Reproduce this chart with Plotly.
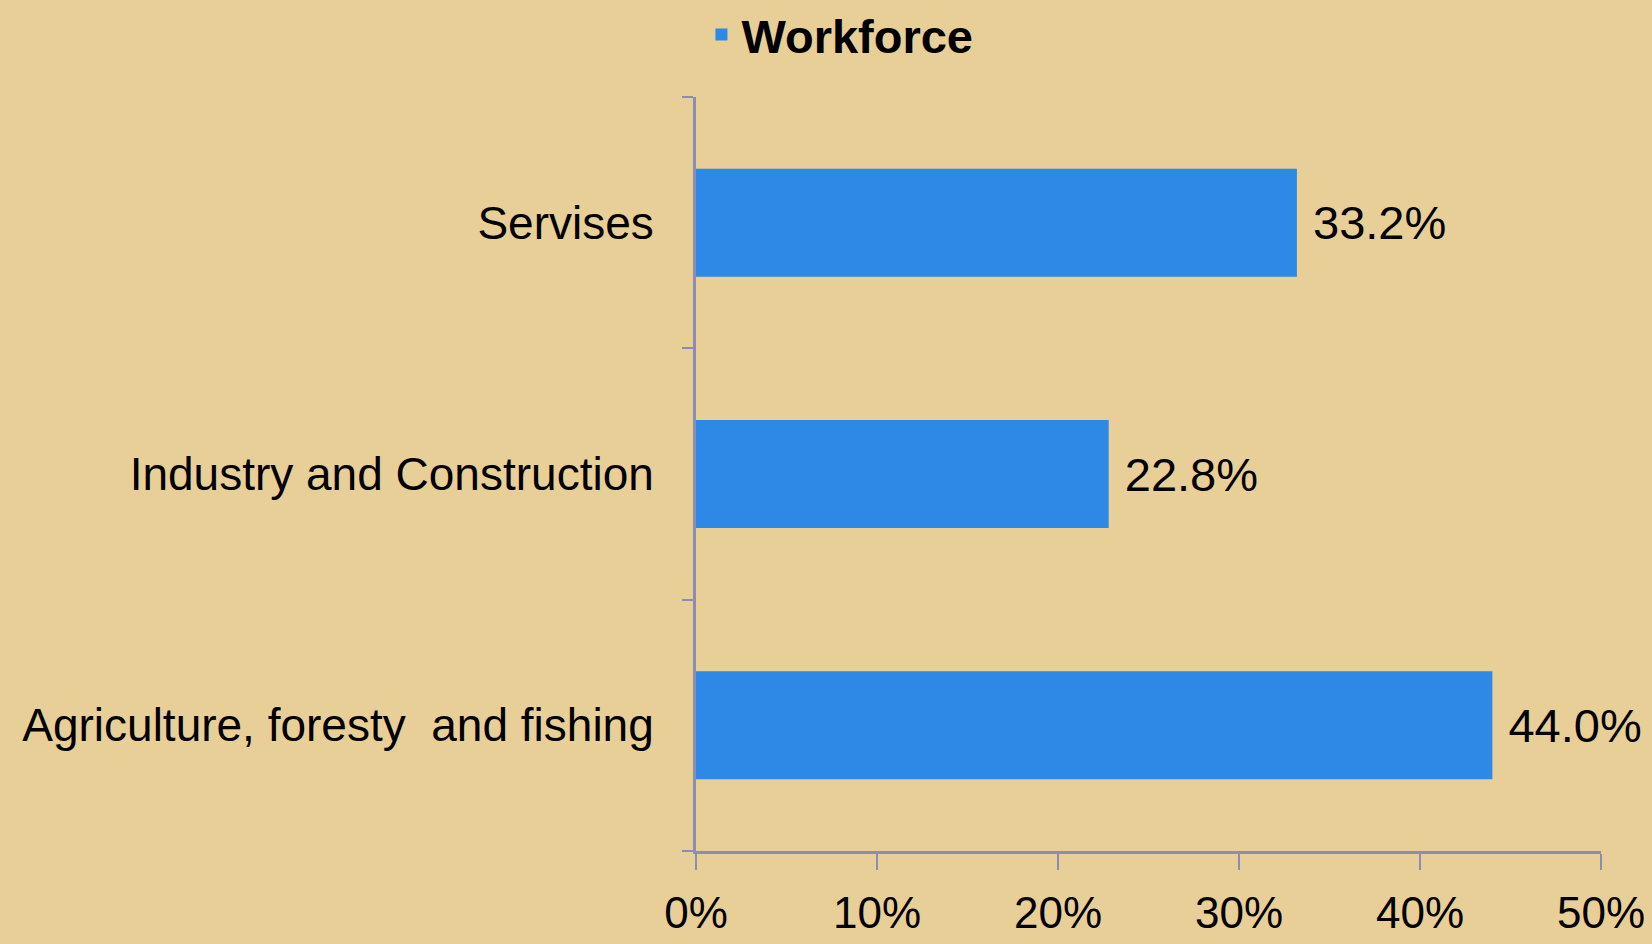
import plotly.graph_objects as go

categories = ["Agriculture, foresty  and fishing", "Industry and Construction", "Servises"]
workforce = [0.440, 0.228, 0.332]
labels = ["44.0%", "22.8%", "33.2%"]
x_ticks = [0, 0.1, 0.2, 0.3, 0.4, 0.5]
x_tick_text = ["0%", "10%", "20%", "30%", "40%", "50%"]

FONT = "Liberation Sans, Arial, sans-serif"
AXIS = "#8c8cb4"

fig = go.Figure()
fig.add_trace(go.Bar(
    y=categories, x=workforce, orientation="h", name="Workforce",
    marker=dict(color="#2d89e5", line=dict(width=0)),
    text=labels, texttemplate="\u00a0%{text}",
    textposition="outside", cliponaxis=False,
    textfont=dict(family=FONT, size=47, color="black"),
    width=0.43,
))

fig.update_layout(
    width=1652, height=944,
    margin=dict(l=696, r=51, t=97, b=93, autoexpand=False),
    paper_bgcolor="#e8cf97", plot_bgcolor="rgba(0,0,0,0)",
    font=dict(family=FONT, color="black"),
    showlegend=True,
    legend=dict(orientation="h", x=0.006, xanchor="left", xref="paper",
                y=1 - 35/944, yref="container", yanchor="middle",
                font=dict(family=FONT, size=47, color="black", weight="bold"),
                bgcolor="rgba(0,0,0,0)"),
)
fig.update_xaxes(range=[0, 0.5], tickvals=x_ticks, ticktext=x_tick_text,
                 showgrid=False, zeroline=False, showline=True, linecolor=AXIS, linewidth=3,
                 ticks="outside", ticklen=16, tickwidth=2, tickcolor=AXIS,
                 tickfont=dict(family=FONT, size=44, color="black"),
                 ticklabelstandoff=5, automargin=False)
fig.update_yaxes(showgrid=False, zeroline=False, showline=True, linecolor=AXIS, linewidth=3,
                 ticks="outside", tickson="boundaries", ticklen=11, tickwidth=2, tickcolor=AXIS,
                 tickfont=dict(family=FONT, size=46, color="black"),
                 ticklabelstandoff=30, automargin=False)
fig.write_html("out.html", config={"displayModeBar": False},
               post_script="document.body.style.margin='0';document.body.style.overflow='hidden';")
